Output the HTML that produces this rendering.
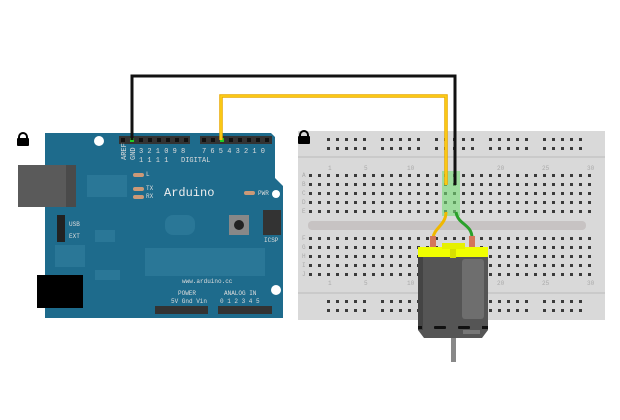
<!DOCTYPE html>
<html><head><meta charset="utf-8"><style>
html,body{margin:0;padding:0;background:#fff;width:620px;height:420px;overflow:hidden}
svg{display:block}
text{font-family:"Liberation Mono",monospace}
</style></head><body>
<svg width="620" height="420" viewBox="0 0 620 420" xmlns="http://www.w3.org/2000/svg">
<defs>
<pattern id="h" x="0" y="0" width="9" height="9" patternUnits="userSpaceOnUse">
<rect x="3" y="3" width="3" height="3" fill="#3a3a3a"/>
</pattern>
</defs>

<!-- Arduino board -->
<path d="M45,133 H271 L275,137 V178 L283,186 V318 H45 Z" fill="#1e6b8c"/>
<rect x="18" y="165" width="48" height="42" fill="#5a5a5a"/>
<rect x="66" y="165" width="10" height="42" fill="#4a4a4a"/>
<rect x="37" y="275" width="46" height="33" fill="#000"/>
<circle cx="99" cy="141" r="5" fill="#fff"/>
<circle cx="276" cy="194" r="4" fill="#fff"/>
<circle cx="276" cy="290" r="5" fill="#fff"/>
<g fill="#2a7797">
<rect x="87" y="175" width="40" height="22"/><rect x="95" y="230" width="20" height="12"/>
<rect x="145" y="248" width="120" height="28"/><rect x="55" y="245" width="30" height="22"/>
<rect x="165" y="215" width="30" height="20" rx="8"/><rect x="95" y="270" width="25" height="10"/>
</g>
<rect x="119" y="136" width="71" height="8" fill="#333"/>
<rect x="200" y="136" width="72" height="8" fill="#333"/>
<rect x="155" y="306" width="53" height="8" fill="#333"/>
<rect x="218" y="306" width="54" height="8" fill="#333"/>
<g fill="#111">
<rect x="121" y="138" width="4" height="4"/><rect x="130" y="138" width="4" height="4" fill="#2c2"/><rect x="139" y="138" width="4" height="4"/><rect x="148" y="138" width="4" height="4"/><rect x="157" y="138" width="4" height="4"/><rect x="166" y="138" width="4" height="4"/><rect x="175" y="138" width="4" height="4"/><rect x="184" y="138" width="4" height="4"/>
<rect x="202" y="138" width="4" height="4"/><rect x="211" y="138" width="4" height="4"/><rect x="220" y="138" width="4" height="4" fill="#2c2"/><rect x="229" y="138" width="4" height="4"/><rect x="238" y="138" width="4" height="4"/><rect x="247" y="138" width="4" height="4"/><rect x="256" y="138" width="4" height="4"/><rect x="265" y="138" width="4" height="4"/>
</g>
<g fill="#ddd" font-size="7">
<text x="126" y="160" transform="rotate(-90 126 160)">AREF</text>
<text x="135" y="160" transform="rotate(-90 135 160)">GND</text>
<text x="139" y="153">3 2 1 0 9 8</text>
<text x="139" y="162">1 1 1 1</text>
<text x="181" y="162">DIGITAL</text>
<text x="202" y="153">7 6 5 4 3 2 1 0</text>
<text x="164" y="196" font-size="12" fill="#eee">Arduino</text>
<text x="182" y="283" font-size="6">www.arduino.cc</text>
<text x="178" y="295" font-size="6">POWER</text>
<text x="224" y="295" font-size="6">ANALOG IN</text>
<text x="171" y="303" font-size="6">5V Gnd Vin</text>
<text x="220" y="303" font-size="6">0 1 2 3 4 5</text>
<text x="146" y="176" font-size="6">L</text>
<text x="146" y="190" font-size="6">TX</text>
<text x="146" y="198" font-size="6">RX</text>
<text x="258" y="195" font-size="6">PWR</text>
<text x="69" y="226" font-size="6">USB</text>
<text x="69" y="238" font-size="6">EXT</text>
<text x="264" y="242" font-size="6">ICSP</text>
</g>
<g fill="#c97"><rect x="133" y="173" width="11" height="4" rx="2"/><rect x="133" y="187" width="11" height="4" rx="2"/><rect x="133" y="195" width="11" height="4" rx="2"/><rect x="244" y="191" width="11" height="4" rx="2"/></g>
<rect x="57" y="215" width="8" height="27" fill="#222"/>
<rect x="263" y="210" width="18" height="25" fill="#333"/>
<rect x="229" y="215" width="20" height="20" fill="#888"/><circle cx="239" cy="225" r="5" fill="#222"/>

<!-- Breadboard -->
<rect x="298" y="131" width="307" height="189" fill="#d9d9d9"/>
<line x1="298" y1="157" x2="605" y2="157" stroke="#bbb"/>
<line x1="298" y1="293" x2="605" y2="293" stroke="#bbb"/>
<rect x="308" y="221" width="278" height="9" rx="4" fill="#c7c3c3"/>
<g fill="url(#h)">
<rect x="325" y="135" width="45" height="18"/><rect x="379" y="135" width="45" height="18"/><rect x="433" y="135" width="45" height="18"/><rect x="487" y="135" width="45" height="18"/><rect x="541" y="135" width="45" height="18"/>
<rect x="325" y="298" width="45" height="18"/><rect x="379" y="298" width="45" height="18"/><rect x="433" y="298" width="45" height="18"/><rect x="487" y="298" width="45" height="18"/><rect x="541" y="298" width="45" height="18"/>
<rect x="307" y="171" width="288" height="45"/>
<rect x="307" y="234" width="288" height="45"/>
</g>
<rect x="442" y="171" width="18" height="45" fill="#7d7" opacity="0.6"/>
<g fill="#aaa" font-size="6" font-family="Liberation Sans">
<text x="328" y="170">1</text><text x="364" y="170">5</text><text x="407" y="170">10</text><text x="497" y="170">20</text><text x="542" y="170">25</text><text x="587" y="170">30</text>
<text x="328" y="285">1</text><text x="364" y="285">5</text><text x="407" y="285">10</text><text x="497" y="285">20</text><text x="542" y="285">25</text><text x="587" y="285">30</text>
<text x="302" y="177">A</text><text x="302" y="186">B</text><text x="302" y="195">C</text><text x="302" y="204">D</text><text x="302" y="213">E</text>
<text x="302" y="240">F</text><text x="302" y="249">G</text><text x="302" y="258">H</text><text x="302" y="267">I</text><text x="302" y="276">J</text>
</g>

<!-- lock icons -->
<g fill="#000"><path d="M19,137 a4,4 0 0 1 8,0 v2 h-8z" fill="none" stroke="#000" stroke-width="2"/><rect x="17" y="138" width="12" height="8" rx="1"/></g>
<g fill="#000"><path d="M300,135 a4,4 0 0 1 8,0 v2 h-8z" fill="none" stroke="#000" stroke-width="2"/><rect x="298" y="136" width="12" height="8" rx="1"/></g>

<!-- Wires -->
<polyline points="132,140 132,76 455,76 455,185" fill="none" stroke="#111" stroke-width="3"/>
<polyline points="221,140 221,96 446,96 446,185" fill="none" stroke="#e8a800" stroke-width="3.5"/>
<polyline points="221,140 221,96 446,96 446,185" fill="none" stroke="#ffd21a" stroke-width="1.5"/>
<path d="M446,212 C446,225 434,228 433,238" fill="none" stroke="#f0b800" stroke-width="3"/>
<path d="M456,212 C458,225 472,224 472,238" fill="none" stroke="#2aa02a" stroke-width="3"/>

<!-- Motor -->
<rect x="430" y="236" width="6" height="12" fill="#d4765a"/>
<rect x="469" y="236" width="6" height="12" fill="#d4765a"/>
<path d="M418,256 H488 V330 L482,338 H424 L418,330 Z" fill="#555"/>
<rect x="418" y="256" width="5" height="74" fill="#444"/>
<rect x="462" y="259" width="22" height="60" rx="3" fill="#6e6e6e"/>
<rect x="418" y="247" width="70" height="10" fill="#f0ff00"/>
<rect x="442" y="243" width="23" height="6" fill="#e6f000"/>
<rect x="450" y="249" width="6" height="9" fill="#d7e000"/>
<g fill="#111"><rect x="418" y="326" width="4" height="3"/><rect x="434" y="326" width="12" height="3" rx="1"/><rect x="458" y="326" width="12" height="3" rx="1"/><rect x="482" y="326" width="6" height="3"/></g>
<rect x="463" y="330" width="17" height="4" fill="#777"/>
<rect x="451" y="338" width="5" height="24" fill="#888"/>
</svg>
</body></html>
